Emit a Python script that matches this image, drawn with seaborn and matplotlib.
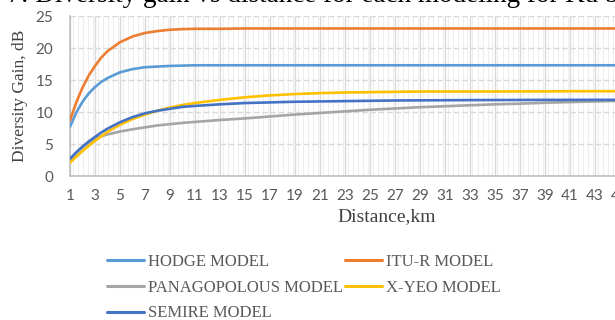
import numpy as np
import pandas as pd
import matplotlib
matplotlib.use("Agg")
import matplotlib.pyplot as plt
from matplotlib.ticker import MultipleLocator
import seaborn as sns

# Distance (km) and diversity gain (dB) for each propagation model
distance = [1, 1.5, 2, 2.5, 3, 3.5, 4, 5, 6, 7, 8, 9, 10, 11, 13, 15, 17, 19,
            21, 23, 25, 27, 29, 31, 33, 35, 37, 39, 41, 43, 45]
hodge = [7.7, 9.9, 11.6, 12.9, 13.9, 14.7, 15.3, 16.2, 16.7, 17.0, 17.1, 17.2,
         17.25, 17.3, 17.3, 17.3, 17.3, 17.3, 17.3, 17.3, 17.3, 17.3, 17.3,
         17.3, 17.3, 17.3, 17.3, 17.3, 17.3, 17.3, 17.3]
itu_r = [8.7, 11.5, 13.8, 15.7, 17.2, 18.5, 19.5, 20.9, 21.8, 22.35, 22.65,
         22.85, 22.95, 23.0, 23.0, 23.05, 23.05, 23.05, 23.05, 23.05, 23.05,
         23.05, 23.05, 23.05, 23.05, 23.05, 23.05, 23.05, 23.05, 23.05, 23.05]
panagopolous = [2.5, 3.6, 4.5, 5.2, 5.8, 6.2, 6.5, 6.95, 7.3, 7.6, 7.9, 8.1,
                8.3, 8.45, 8.75, 9.0, 9.3, 9.6, 9.85, 10.1, 10.35, 10.55,
                10.75, 10.9, 11.05, 11.2, 11.3, 11.45, 11.55, 11.65, 11.75]
x_yeo = [2.1, 3.0, 3.9, 4.7, 5.5, 6.2, 6.9, 8.0, 8.9, 9.6, 10.2, 10.7, 11.1,
         11.4, 11.9, 12.3, 12.6, 12.8, 12.95, 13.05, 13.1, 13.15, 13.2, 13.2,
         13.2, 13.2, 13.22, 13.22, 13.25, 13.25, 13.25]
semire = [2.7, 3.7, 4.6, 5.4, 6.1, 6.8, 7.4, 8.4, 9.2, 9.8, 10.2, 10.5, 10.8,
          10.95, 11.2, 11.4, 11.5, 11.6, 11.65, 11.7, 11.75, 11.8, 11.82,
          11.84, 11.86, 11.87, 11.88, 11.89, 11.9, 11.9, 11.9]

models = ["HODGE MODEL", "ITU-R MODEL", "PANAGOPOLOUS MODEL", "X-YEO MODEL",
          "SEMIRE MODEL"]
series = [hodge, itu_r, panagopolous, x_yeo, semire]
colors = ["#5B9BD5", "#ED7D31", "#A5A5A5", "#FFC000", "#4472C4"]

df = pd.concat(
    [pd.DataFrame({"Distance": distance, "Gain": vals, "Model": name})
     for name, vals in zip(models, series)],
    ignore_index=True,
)

sns.set_theme(style="white")
serif = ["Liberation Serif", "DejaVu Serif"]
tick_font = ["Lato", "DejaVu Sans"]

fig = plt.figure(figsize=(6.15, 3.2), dpi=100)
ax = fig.add_axes([70 / 615, 144 / 320, 550 / 615, 160 / 320])

sns.lineplot(data=df, x="Distance", y="Gain", hue="Model", hue_order=models,
             palette=colors, linewidth=1.9, ax=ax, legend=False, zorder=3)

ax.set_xlim(1, 45)
ax.set_ylim(0, 25)
ax.set_xticks(range(1, 46, 2))
ax.xaxis.set_minor_locator(MultipleLocator(0.4))
ax.set_yticks(range(0, 26, 5))

ax.grid(which="major", axis="x", color="#D9D9D9", linewidth=1.0, zorder=0)
ax.grid(which="minor", axis="x", color="#EEEEEE", linewidth=0.8, zorder=0)
ax.grid(which="major", axis="y", color="#D9D9D9", linewidth=1.0,
        linestyle=(0, (4, 2)), zorder=0)

for side in ["top", "right"]:
    ax.spines[side].set_visible(False)
for side in ["left", "bottom"]:
    ax.spines[side].set_color("#BFBFBF")
    ax.spines[side].set_linewidth(1.2)

ax.tick_params(axis="both", which="both", length=0, labelsize=11,
               labelcolor="#595959")
ax.tick_params(axis="x", pad=9)
ax.tick_params(axis="y", pad=12)
for lab in ax.get_xticklabels() + ax.get_yticklabels():
    lab.set_family(tick_font)

ax.set_xlabel("")
ax.set_ylabel("")
fig.text(20 / 615, 1 - 96 / 320, "Diversity Gain, dB", rotation=90,
         ha="center", va="center", family=serif, fontsize=12.5, color="#404040")
fig.text(387 / 615, 1 - 217 / 320, "Distance,km", ha="center", va="center",
         family=serif, fontsize=14, color="#404040")

fig.text(-0.068, 1 - 2 / 320, "Fig. 7: Diversity gain vs distance for each modeling for Ku band",
         ha="left", va="baseline", family=serif, fontsize=19.5, color="black")

handles = [plt.Line2D([], [], color=c, linewidth=2.2) for c in colors]
order = [0, 2, 4, 1, 3]
fig.legend([handles[i] for i in order], [models[i] for i in order],
           loc="upper left", bbox_to_anchor=(107 / 615, 1 - 254 / 320),
           ncol=2, frameon=False, prop={"family": serif, "size": 12},
           labelcolor="#595959", handlelength=2.2, handletextpad=0.25,
           columnspacing=0.15, labelspacing=0.58, borderaxespad=0,
           borderpad=0)

fig.savefig("out.png", dpi=100)
